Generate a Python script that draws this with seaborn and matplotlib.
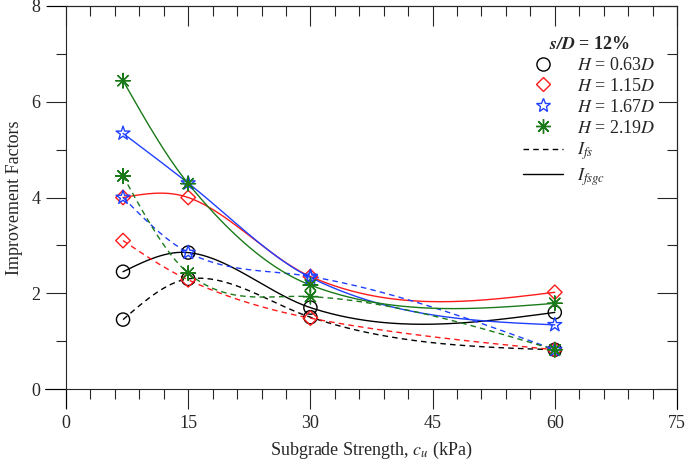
import numpy as np
import matplotlib
matplotlib.use("Agg")
import matplotlib.pyplot as plt
from matplotlib.lines import Line2D
from matplotlib.ticker import MultipleLocator
import seaborn as sns

# subgrade strength (kPa)
cu = [7, 15, 30, 60]

# improvement factors, one pair per thickness
labels = ["$H$ = 0.63$D$", "$H$ = 1.15$D$", "$H$ = 1.67$D$", "$H$ = 2.19$D$"]
i_fsgc = [
    [2.45, 2.85, 1.70, 1.60],
    [4.00, 4.00, 2.35, 2.02],
    [5.34, 4.30, 2.33, 1.34],
    [6.44, 4.29, 2.17, 1.79],
]
i_fs = [
    [1.45, 2.30, 1.50, 0.82],
    [3.10, 2.28, 1.48, 0.82],
    [4.00, 2.85, 2.35, 0.82],
    [4.45, 2.42, 1.93, 0.82],
]
colors = ["black", "#ff1a1a", "#2040ff", "#1a7a1a"]
markers = ["o", "D", "*", (8, 2, 0)]
msizes = [90, 55, 110, 110]


def smooth_curve(x, y, n=200):
    # smooth line through the points for drawing: hermite cubic whose slopes
    # are a mix of natural-spline and catmull-rom slopes (less overshoot)
    x = np.asarray(x, float)
    y = np.asarray(y, float)
    m = len(x)
    h = np.diff(x)
    d = np.diff(y) / h
    A = np.zeros((m, m))
    b = np.zeros(m)
    A[0, 0] = A[-1, -1] = 1
    for i in range(1, m - 1):
        A[i, i - 1] = h[i - 1]
        A[i, i] = 2 * (h[i - 1] + h[i])
        A[i, i + 1] = h[i]
        b[i] = 6 * (d[i] - d[i - 1])
    M = np.linalg.solve(A, b)
    s_nat = np.append(d - h * (2 * M[:-1] + M[1:]) / 6, d[-1] + h[-1] * (M[-2] + 2 * M[-1]) / 6)
    s_cr = np.zeros(m)
    s_cr[1:-1] = (y[2:] - y[:-2]) / (x[2:] - x[:-2])
    s_cr[0] = (3 * d[0] - s_cr[1]) / 2
    s_cr[-1] = (3 * d[-1] - s_cr[-2]) / 2
    s = 0.5 * (s_nat + s_cr)
    xs = np.linspace(x[0], x[-1], n)
    j = np.clip(np.searchsorted(x, xs) - 1, 0, m - 2)
    t = (xs - x[j]) / h[j]
    h00 = 2 * t ** 3 - 3 * t ** 2 + 1
    h10 = t ** 3 - 2 * t ** 2 + t
    h01 = -2 * t ** 3 + 3 * t ** 2
    h11 = t ** 3 - t ** 2
    ys = h00 * y[j] + h10 * h[j] * s[j] + h01 * y[j + 1] + h11 * h[j] * s[j + 1]
    return xs, ys


sns.set_theme(style="ticks")
plt.rcParams["font.family"] = ["Liberation Serif", "DejaVu Serif"]
plt.rcParams["mathtext.fontset"] = "stix"

fig = plt.figure(figsize=(6.85, 4.62), dpi=100)
ax = fig.add_axes([66 / 685, 1 - 389 / 462, 611 / 685, 383 / 462])

for k in range(4):
    c = colors[k]
    xs, ys = smooth_curve(cu, i_fsgc[k])
    sns.lineplot(x=xs, y=ys, color=c, lw=1.0, ls="-", ax=ax)
    xs, ys = smooth_curve(cu, i_fs[k])
    sns.lineplot(x=xs, y=ys, color=c, lw=1.0, ls=(0, (4, 3)), ax=ax)
    for vals in (i_fsgc[k], i_fs[k]):
        sns.scatterplot(x=cu, y=vals, marker=markers[k], s=msizes[k], color=c, ax=ax, zorder=4)
        coll = ax.collections[-1]
        coll.set_facecolor("none")
        coll.set_edgecolor(c)
        coll.set_linewidth(1.0)

ax.set_xlim(0, 75)
ax.set_ylim(0, 8)
ax.xaxis.set_major_locator(MultipleLocator(15))
ax.xaxis.set_minor_locator(MultipleLocator(3))
ax.yaxis.set_major_locator(MultipleLocator(2))
ax.yaxis.set_minor_locator(MultipleLocator(1))
ax.tick_params(which="major", direction="out", length=14.4, width=0.8, labelsize=13, pad=4)
ax.tick_params(which="minor", direction="out", length=7.2, width=0.8)

# top and right axes with ticks pointing into the plot
top = ax.secondary_xaxis("top")
top.xaxis.set_major_locator(MultipleLocator(15))
top.xaxis.set_minor_locator(MultipleLocator(3))
top.tick_params(which="major", direction="in", length=14.4, width=0.8, labeltop=False)
top.tick_params(which="minor", direction="in", length=7.2, width=0.8)
right = ax.secondary_yaxis("right")
right.yaxis.set_major_locator(MultipleLocator(2))
right.yaxis.set_minor_locator(MultipleLocator(1))
right.tick_params(which="major", direction="in", length=14.4, width=0.8, labelright=False)
right.tick_params(which="minor", direction="in", length=7.2, width=0.8)
for s in ax.spines.values():
    s.set_linewidth(0.8)
top.spines["top"].set_linewidth(0.8)
right.spines["right"].set_linewidth(0.8)

# axis lines run a little past the corners
ext = dict(color="black", lw=0.8, transform=ax.transAxes, clip_on=False)
ax.plot([-21 / 611, 0], [0, 0], **ext)
ax.plot([-19 / 611, 0], [1, 1], **ext)
ax.plot([0, 0], [-19 / 383, 0], **ext)
ax.plot([1, 1], [-20 / 383, 0], **ext)

ax.set_xlabel("Subgrade Strength, $c_u$ (kPa)", fontsize=13, labelpad=6)
ax.set_ylabel("Improvement Factors", fontsize=13, labelpad=6)

handles = []
for k in range(4):
    handles.append(Line2D([], [], ls="none", marker=markers[k], mfc="none", mec=colors[k],
                          ms=np.sqrt(msizes[k]), mew=1.0, label=labels[k]))
handles.append(Line2D([], [], color="black", lw=1.0, ls=(0, (4, 3)), label="$I_{fs}$"))
handles.append(Line2D([], [], color="black", lw=1.0, ls="-", label="$I_{fsgc}$"))
leg = ax.legend(handles=handles, loc="upper right", bbox_to_anchor=(0.986, 0.955),
                title=r"$\mathbfit{s/D}$ = 12%", fontsize=13, title_fontsize=13,
                frameon=True, facecolor="white", edgecolor="none", framealpha=1,
                handlelength=2.2, handletextpad=0.8, labelspacing=0.22, borderpad=0.2)
leg.get_title().set_fontweight("bold")
leg.set_zorder(10)

fig.savefig("out.png", dpi=100)
